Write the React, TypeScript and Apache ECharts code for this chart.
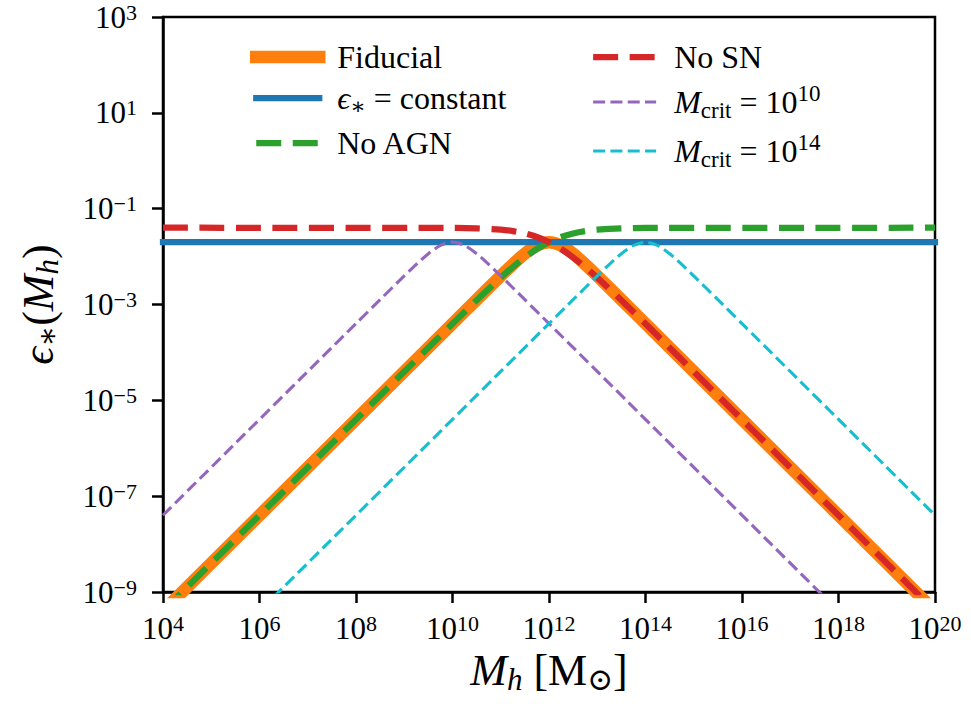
import React, { useEffect, useRef } from "react";
import * as echarts from "echarts";

const FONT = "Liberation Serif, DejaVu Serif, serif";

// Axis ranges (log10 of the limits) and the spacing of labelled decades
const X_RANGE_EXP = [4, 20];
const Y_RANGE_EXP = [-9, 3];
const TICK_STEP = 2;

// Halo mass grid (log10 M_h / M_sun) and star formation efficiency for each model
const FIDUCIAL_LOGM = [4, 10, 10.5, 11, 11.25, 11.5, 11.75, 12, 12.25, 12.5, 12.75, 13, 13.5, 14, 20];
const FIDUCIAL_EPS = [4.0e-10, 4.0e-4, 1.26e-3, 3.96e-3, 6.9e-3, 1.15e-2, 1.71e-2, 2.0e-2, 1.71e-2, 1.15e-2, 6.9e-3, 3.96e-3, 1.26e-3, 4.0e-4, 4.0e-10];

const CONSTANT_LOGM = [4, 20];
const CONSTANT_EPS = [2.0e-2, 2.0e-2];

const NO_AGN_LOGM = [4, 10, 10.5, 11, 11.25, 11.5, 11.75, 12, 12.25, 12.5, 12.75, 13, 13.5, 14, 20];
const NO_AGN_EPS = [4.0e-10, 3.96e-4, 1.23e-3, 3.64e-3, 6.04e-3, 9.61e-3, 1.44e-2, 2.0e-2, 2.56e-2, 3.04e-2, 3.4e-2, 3.64e-2, 3.88e-2, 3.96e-2, 4.0e-2];

const NO_SN_LOGM = [4, 10, 10.5, 11, 11.25, 11.5, 11.75, 12, 12.25, 12.5, 12.75, 13, 13.5, 14, 20];
const NO_SN_EPS = [4.0e-2, 3.96e-2, 3.88e-2, 3.64e-2, 3.4e-2, 3.04e-2, 2.56e-2, 2.0e-2, 1.44e-2, 9.61e-3, 6.04e-3, 3.64e-3, 1.23e-3, 3.96e-4, 4.0e-10];

const MCRIT10_LOGM = [4, 8, 8.5, 9, 9.25, 9.5, 9.75, 10, 10.25, 10.5, 10.75, 11, 11.5, 12, 20];
const MCRIT10_EPS = [4.0e-8, 4.0e-4, 1.26e-3, 3.96e-3, 6.9e-3, 1.15e-2, 1.71e-2, 2.0e-2, 1.71e-2, 1.15e-2, 6.9e-3, 3.96e-3, 1.26e-3, 4.0e-4, 4.0e-12];

const MCRIT14_LOGM = [4, 12, 12.5, 13, 13.25, 13.5, 13.75, 14, 14.25, 14.5, 14.75, 15, 15.5, 16, 20];
const MCRIT14_EPS = [4.0e-12, 4.0e-4, 1.26e-3, 3.96e-3, 6.9e-3, 1.15e-2, 1.71e-2, 2.0e-2, 1.71e-2, 1.15e-2, 6.9e-3, 3.96e-3, 1.26e-3, 4.0e-4, 4.0e-8];

const NAMES = ["Fiducial", "ϵ∗ = constant", "No AGN", "No SN", "M_crit = 10^10", "M_crit = 10^14"];

const LEGEND_TEXT: Record<string, string> = {
  "Fiducial": "{t|Fiducial}",
  "ϵ∗ = constant": "{i|ϵ}{sub|∗}{t| = constant}",
  "No AGN": "{t|No AGN}",
  "No SN": "{t|No SN}",
  "M_crit = 10^10": "{i|M}{sub|crit}{t| = 10}{sup|10}",
  "M_crit = 10^14": "{i|M}{sub|crit}{t| = 10}{sup|14}",
};

const toPairs = (logM: number[], eps: number[]) => logM.map((e, i) => [Math.pow(10, e), eps[i]]);

const powLabel = (v: number) => {
  const e = Math.round(Math.log10(v));
  return `{b|10}{s|${e < 0 ? "\u2212" + -e : e}}`;
};

const tickRich = {
  b: { fontFamily: FONT, fontSize: 31, lineHeight: 32, color: "#000" },
  s: { fontFamily: FONT, fontSize: 22, lineHeight: 15, verticalAlign: "top", color: "#000" },
};

const legendRich = {
  t: { fontFamily: FONT, fontSize: 32, lineHeight: 40, color: "#000" },
  i: { fontFamily: FONT, fontSize: 32, lineHeight: 40, fontStyle: "italic", color: "#000" },
  sub: { fontFamily: FONT, fontSize: 23, lineHeight: 24, verticalAlign: "bottom", color: "#000" },
  sup: { fontFamily: FONT, fontSize: 23, lineHeight: 24, verticalAlign: "top", color: "#000" },
};

const nameRich = {
  t: { fontFamily: FONT, fontSize: 44, lineHeight: 50, color: "#000" },
  i: { fontFamily: FONT, fontSize: 44, lineHeight: 50, fontStyle: "italic", color: "#000" },
  sub: { fontFamily: FONT, fontSize: 31, lineHeight: 30, verticalAlign: "bottom", color: "#000" },
  isub: { fontFamily: FONT, fontSize: 31, lineHeight: 30, verticalAlign: "bottom", fontStyle: "italic", color: "#000" },
};

function lineSeries(name: string, logM: number[], eps: number[], color: string, width: number, dash: number[] | "solid") {
  return {
    type: "line",
    name,
    data: toPairs(logM, eps),
    showSymbol: false,
    symbol: "none",
    smooth: 0.25,
    clip: true,
    lineStyle: { color, width, type: dash, cap: dash === "solid" ? "square" : "butt" },
    itemStyle: { color },
    emphasis: { disabled: true },
  };
}

function legendBlock(data: string[], left: number) {
  return {
    data,
    orient: "vertical",
    left,
    top: 41,
    padding: 0,
    itemWidth: 63,
    itemHeight: 14,
    itemGap: 9,
    selectedMode: false,
    lineStyle: { width: "inherit" },
    itemStyle: { opacity: 0 },
    formatter: (n: string) => LEGEND_TEXT[n],
    textStyle: { padding: [0, 0, 0, 13], fontFamily: FONT, rich: legendRich },
  };
}

export default function App() {
  const ref = useRef<HTMLDivElement>(null);

  useEffect(() => {
    document.body.style.margin = "0";
    if (!ref.current) return;
    const chart = echarts.init(ref.current, undefined, { renderer: "svg" });
    chart.setOption({
      animation: false,
      backgroundColor: "#fff",
      textStyle: { fontFamily: FONT },
      grid: {
        left: 163,
        right: 36,
        top: 17,
        bottom: 112,
        show: true,
        borderColor: "#000",
        borderWidth: 2.5,
        backgroundColor: "transparent",
        containLabel: false,
        outerBoundsMode: "none",
      },
      legend: [legendBlock(NAMES.slice(0, 3), 250), legendBlock(NAMES.slice(3), 590)],
      xAxis: {
        type: "log",
        logBase: 10,
        min: Math.pow(10, X_RANGE_EXP[0]),
        max: Math.pow(10, X_RANGE_EXP[1]),
        interval: TICK_STEP,
        axisLine: { show: true, onZero: false, lineStyle: { color: "#000", width: 2.5 } },
        axisTick: { show: true, inside: false, length: 11, lineStyle: { color: "#000", width: 2.5 } },
        minorTick: { show: false },
        splitLine: { show: false },
        axisLabel: { margin: 20, formatter: powLabel, fontFamily: FONT, rich: tickRich, hideOverlap: false },
        name: "{i|M}{isub|h}{t| [M}{sub|⊙}{t|]}",
        nameLocation: "middle",
        nameGap: 38,
        nameTextStyle: { fontFamily: FONT, rich: nameRich },
      },
      yAxis: {
        type: "log",
        logBase: 10,
        min: Math.pow(10, Y_RANGE_EXP[0]),
        max: Math.pow(10, Y_RANGE_EXP[1]),
        interval: TICK_STEP,
        axisLine: { show: true, onZero: false, lineStyle: { color: "#000", width: 2.5 } },
        axisTick: { show: true, inside: false, length: 11, lineStyle: { color: "#000", width: 2.5 } },
        minorTick: { show: false },
        splitLine: { show: false },
        axisLabel: { margin: 26, formatter: powLabel, fontFamily: FONT, rich: tickRich, hideOverlap: false },
        name: "{i|ϵ}{sub|∗}{t|(}{i|M}{isub|h}{t|)}",
        nameLocation: "middle",
        nameRotate: 90,
        nameGap: 100,
        nameTextStyle: { fontFamily: FONT, rich: nameRich },
      },
      series: [
        lineSeries(NAMES[0], FIDUCIAL_LOGM, FIDUCIAL_EPS, "#ff7f0e", 12.5, "solid"),
        lineSeries(NAMES[1], CONSTANT_LOGM, CONSTANT_EPS, "#1f77b4", 6.25, "solid"),
        lineSeries(NAMES[2], NO_AGN_LOGM, NO_AGN_EPS, "#2ca02c", 6.25, [25, 11.5]),
        lineSeries(NAMES[3], NO_SN_LOGM, NO_SN_EPS, "#d62728", 6.25, [25, 11.5]),
        lineSeries(NAMES[4], MCRIT10_LOGM, MCRIT10_EPS, "#9467bd", 3.1, [12, 5.3]),
        lineSeries(NAMES[5], MCRIT14_LOGM, MCRIT14_EPS, "#17becf", 3.1, [12, 5.3]),
      ],
    });
    return () => chart.dispose();
  }, []);

  return <div ref={ref} style={{ width: 971, height: 704 }} />;
}
